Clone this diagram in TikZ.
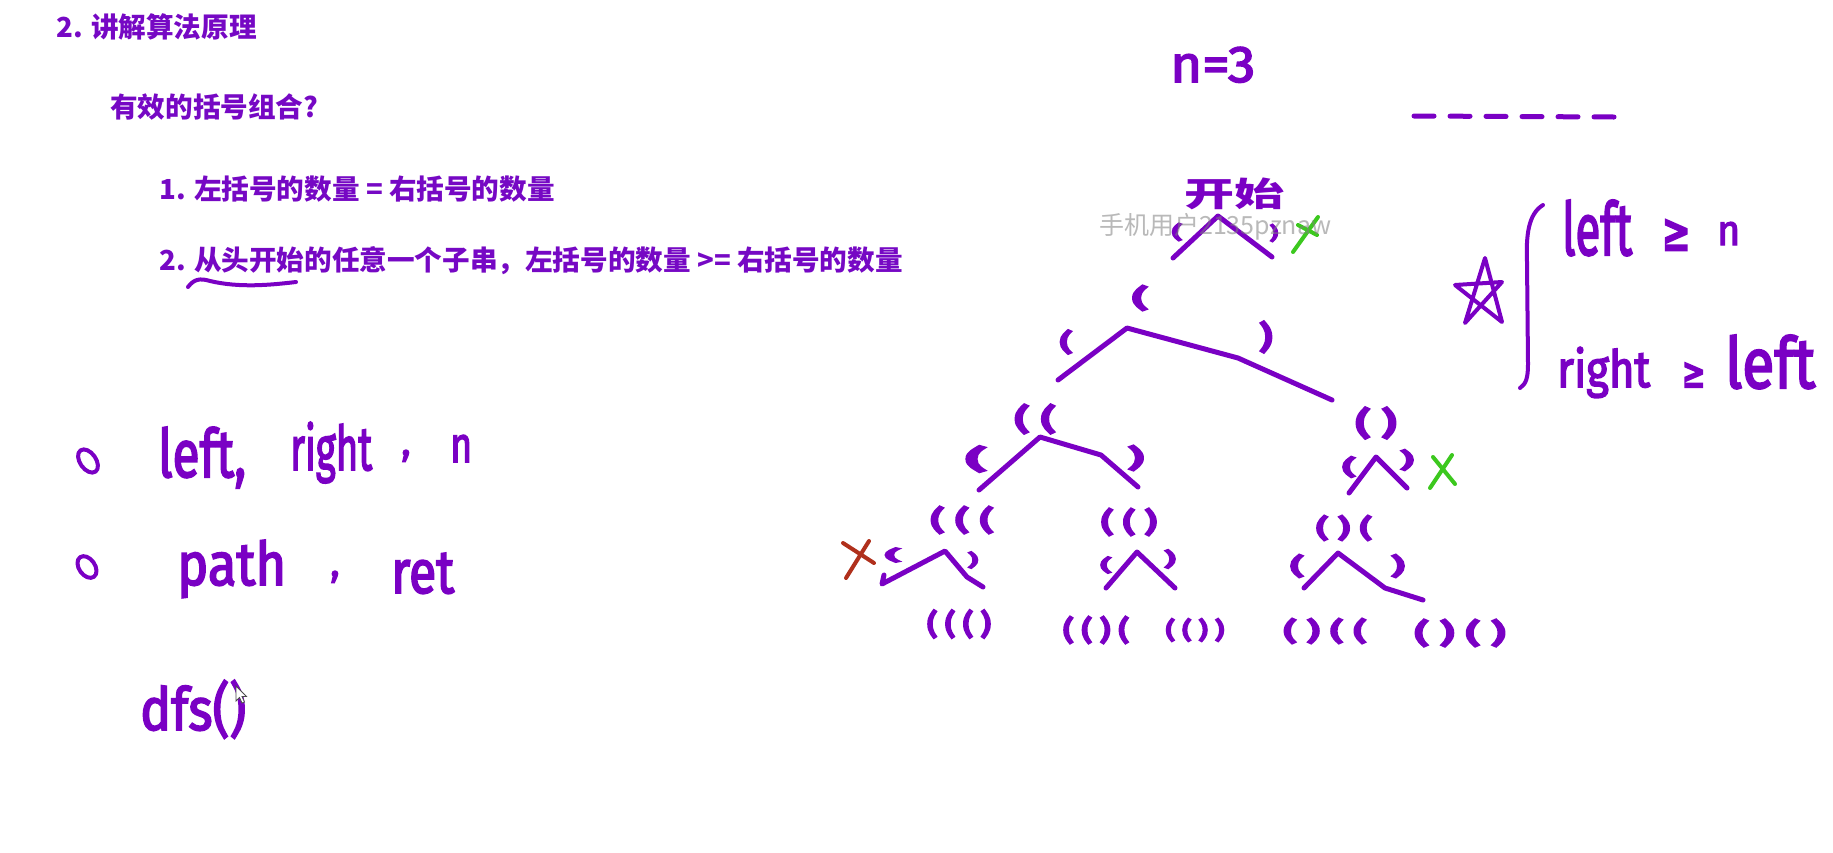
\documentclass[tikz,border=0pt]{standalone}
\usepackage{fontspec}
\usepackage{graphicx}
\setmainfont{Fira Sans}
\newfontfamily\cjk{Noto Sans CJK SC}
\newfontfamily\hwfont{Fira Sans}[FakeBold=3]
\newfontfamily\parfont{Fira Sans}[FakeBold=10]
\newfontfamily\symf{DejaVu Sans}[FakeBold=5]
\definecolor{pur}{RGB}{122,0,196}
\definecolor{txtpur}{RGB}{118,8,196}
\definecolor{grn}{RGB}{60,200,30}
\definecolor{redx}{RGB}{176,48,28}
\newcommand{\hwb}[3]{\resizebox{#1pt}{#2pt}{\hwfont #3}}
\newcommand{\hwc}[3]{\resizebox*{#1pt}{#2pt}{\parfont #3}}
\newcommand{\ks}{\kern.3em}
\tikzset{
  hw/.style={inner sep=0pt, text=pur, anchor=base west},
  hwm/.style={inner sep=0pt, text=pur, anchor=center},
  ptxt/.style={inner sep=0pt, text=txtpur, anchor=west, font=\cjk\bfseries\fontsize{27.6}{30}\selectfont},
  stroke/.style={draw=pur, line width=5pt, line cap=round, line join=round},
  branch/.style={stroke},
  gx/.style={draw=grn, line width=4pt, line cap=round},
  rx/.style={draw=redx, line width=4pt, line cap=round},
}
\begin{document}
\begin{tikzpicture}[x=1pt,y=-1pt]
\fill[white] (0,0) rectangle (1833,852);
\useasboundingbox (0,0) rectangle (1833,852);

% printed text
\node[ptxt] (h1) at (56,27) {2. 讲解算法原理};
\node[ptxt] (h2) at (110,107) {有效的括号组合?};
\node[ptxt] (r1) at (159,189) {1. 左括号的数量 = 右括号的数量};
\node[ptxt] (r2) at (159,261) {2. 从头开始的任意一个子串，左括号的数量 >= 右括号的数量};
\draw[stroke, line width=4pt] (188,287) .. controls (194,279) and (200,278) .. (210,281) .. controls (240,288) and (270,285) .. (296,282);

% bullets and handwritten notes (left)
\draw[stroke, line width=4pt, rotate around={35:(88,461)}] (88,461) ellipse (8 and 13);
\draw[stroke, line width=4pt, rotate around={35:(87,567)}] (87,567) ellipse (8 and 12);
\node[hw] (w1) at (158,477) {\hwb{88}{50}{left,}};
\node[hw] (w2) at (290,470) {\hwb{82}{48}{right}};
\node[hw] (w3) at (401,455) {\hwfont\fontsize{40}{40}\selectfont ,};
\node[hw] (w4) at (450,462) {\hwb{22}{27}{n}};
\node[hw] (p1) at (177,585) {\hwb{109}{45}{path}};
\node[hw] (p2) at (330,576) {\hwfont\fontsize{40}{40}\selectfont ,};
\node[hw] (p3) at (391,593) {\hwb{63}{40}{ret}};
\node[hw] (d1) at (140,730) {\hwb{106}{50}{dfs()}};
\filldraw[fill=white, draw=black!70, line width=0.8pt] (236,686) -- (236,701) -- (239.5,697.5) -- (242,703) -- (244.5,702) -- (242,696.5) -- (246.5,696.5) -- cycle;

% top right
\node[hw] (nn) at (1170,82) {\hwb{85}{35}{n=3}};
\draw[stroke, dash pattern=on 20pt off 16pt] (1414,116) -- (1614,117);

% tree
\node[hwm] (start) at (1234,194) {\resizebox*{100pt}{32pt}{\cjk\bfseries 开始}};
\coordinate (a0) at (1218,216);
\coordinate (a0l) at (1173,258);
\coordinate (a0r) at (1272,257);
\draw[branch] (a0l) -- (a0) -- (a0r);
\node[hwm] (b0l) at (1177,232) {\hwc{10}{17}{(}};
\node[hwm] (b0r) at (1274,233) {\hwc{8}{17}{)}};
\draw[gx] (1293,252) -- (1318,217);
\draw[gx] (1298,225) -- (1317,235);

\node[hwm] (n1) at (1140,298) {\hwc{15}{24}{(}};
\coordinate (a1) at (1127,328);
\coordinate (a1l) at (1058,380);
\coordinate (a1m) at (1238,358);
\coordinate (a1r) at (1332,400);
\draw[branch] (a1l) -- (a1) -- (a1m) -- (a1r);
\node[hwm] (b1l) at (1066,342) {\hwc{12}{23}{(}};
\node[hwm] (b1r) at (1266,337) {\hwc{12}{30}{)}};

\node[hwm] (n2) at (1035,419) {\hwc{40}{28}{(\ks(}};
\node[hwm] (n3) at (1376,423) {\hwc{40}{30}{(\ks)}};

\coordinate (a2) at (1040,437);
\coordinate (a2l) at (979,490);
\coordinate (a2m) at (1101,455);
\coordinate (a2r) at (1138,487);
\draw[branch] (a2l) -- (a2) -- (a2m) -- (a2r);
\node[hwm] (b2l) at (976,459) {\hwc{20}{25}{(}};
\node[hwm] (b2r) at (1136,458) {\hwc{15}{24}{)}};

\coordinate (a3) at (1376,457);
\coordinate (a3l) at (1349,493);
\coordinate (a3r) at (1407,488);
\draw[branch] (a3l) -- (a3) -- (a3r);
\node[hwm] (b3l) at (1349,467) {\hwc{13}{20}{(}};
\node[hwm] (b3r) at (1407,460) {\hwc{13}{20}{)}};
\draw[gx] (1433,457) -- (1455,484);
\draw[gx] (1430,488) -- (1452,455);

\node[hwm] (n4) at (962,520) {\hwc{62}{26}{(\ks(\ks(}};
\node[hwm] (n5) at (1129,522) {\hwc{55}{26}{(\ks(\ks)}};
\node[hwm] (n6) at (1344,528) {\hwc{55}{24}{(\ks)\ks(}};

\coordinate (a4) at (945,551);
\coordinate (a4l) at (882,584);
\coordinate (a4h) at (884,575);
\coordinate (a4m) at (967,577);
\coordinate (a4r) at (983,587);
\draw[branch] (a4h) -- (a4l) -- (a4) -- (a4m) -- (a4r);
\node[hwm] (b4l) at (893,555) {\hwc{16}{14}{(}};
\node[hwm] (b4r) at (973,560) {\hwc{10}{16}{)}};
\draw[rx] (843,543) -- (874,563);
\draw[rx] (869,541) -- (846,578);

\coordinate (a5) at (1137,552);
\coordinate (a5l) at (1106,588);
\coordinate (a5r) at (1175,588);
\draw[branch] (a5l) -- (a5) -- (a5r);
\node[hwm] (b5l) at (1106,565) {\hwc{11}{16}{(}};
\node[hwm] (b5r) at (1170,559) {\hwc{11}{18}{)}};

\coordinate (a6) at (1338,553);
\coordinate (a6l) at (1304,588);
\coordinate (a6m) at (1385,588);
\coordinate (a6r) at (1423,600);
\draw[branch] (a6l) -- (a6) -- (a6m) -- (a6r);
\node[hwm] (b6l) at (1297,566) {\hwc{13}{22}{(}};
\node[hwm] (b6r) at (1398,566) {\hwc{13}{22}{)}};

\node[hwm] (l1) at (959,624) {\hwc{63}{27}{(\ks(\ks(\ks)}};
\node[hwm] (l2) at (1096,630) {\hwc{65}{26}{(\ks(\ks)\ks(}};
\node[hwm] (l3) at (1195,630) {\hwc{58}{22}{(\ks(\ks)\ks)}};
\node[hwm] (l4) at (1325,631) {\hwc{82}{24}{(\ks)\ks(\ks(}};
\node[hwm] (l5) at (1460,633) {\hwc{90}{26}{(\ks)\ks(\ks)}};

% star and conditions
\draw[stroke, line width=4pt] (1485,258) -- (1465,323) -- (1502,282) -- (1455,285) -- (1502,322) -- cycle;
\draw[stroke, line width=4pt] (1543,205) .. controls (1528,214) and (1526,236) .. (1527,262) -- (1528,364) .. controls (1528,378) and (1526,384) .. (1520,388);
\node[hw] (c1a) at (1562,255) {\hwb{70}{55}{left}};
\node[hw] (c1b) at (1662,250) {\resizebox{28pt}{30pt}{\symf ≥}};
\node[hw] (c1c) at (1717,245) {\hwb{23}{23}{n}};
\node[hw] (c2a) at (1557,387) {\hwb{93}{40}{right}};
\node[hw] (c2b) at (1682,387) {\resizebox{23pt}{24pt}{\symf ≥}};
\node[hw] (c2c) at (1725,388) {\hwb{90}{53}{left}};

% watermark
\node[anchor=west, inner sep=0pt, text=gray, opacity=0.55, font=\cjk\fontsize{25}{25}\selectfont] (wm) at (1099,227) {手机用户2135pznaw};
\end{tikzpicture}
\end{document}
